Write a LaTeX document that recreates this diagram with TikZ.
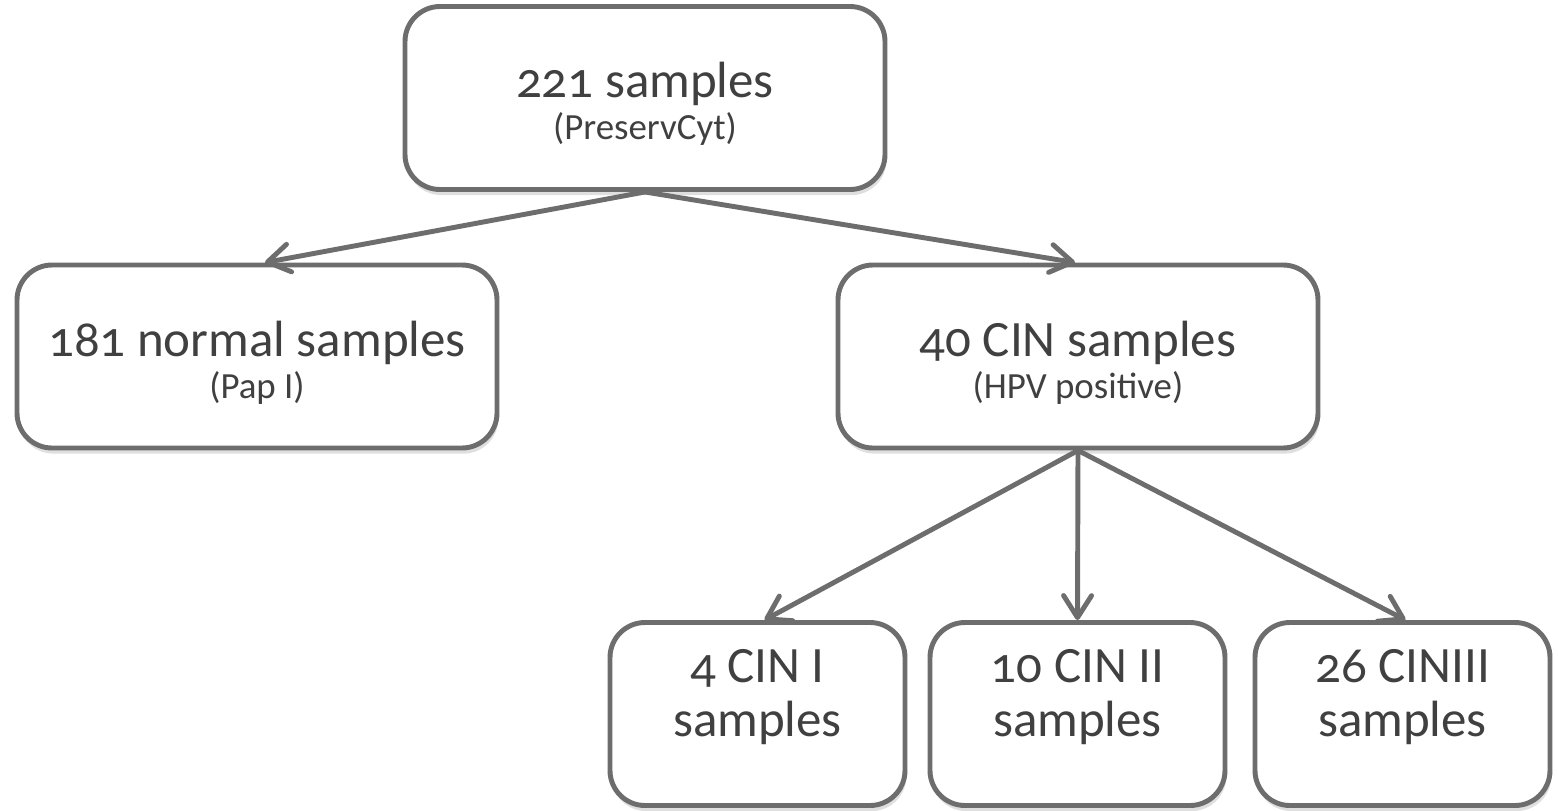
\documentclass[tikz,border=0pt]{standalone}
\usepackage{fontspec}
\setmainfont{Carlito}[Numbers=OldStyle]
\usetikzlibrary{arrows.meta,shadows}
\definecolor{linegray}{HTML}{6D6D6D}
\definecolor{textgray}{HTML}{404040}
\newcommand{\sml}[1]{{\fontsize{10.5}{13}\selectfont #1}}
\begin{document}
\begin{tikzpicture}[
    sbox/.style={draw=linegray,line width=1.4pt,rounded corners=0.35cm,fill=white,
        text=textgray,align=center,inner sep=0pt,minimum height=1.83cm,
        font=\fontsize{14.5}{15.5}\selectfont,
        drop shadow={opacity=0.25,shadow xshift=0.4pt,shadow yshift=-1.6pt}},
    wide/.style={sbox,minimum width=4.8cm},
    narrow/.style={sbox,minimum width=2.95cm},
    txt/.style={text=textgray,align=center,inner sep=0pt,font=\fontsize{14.5}{15.5}\selectfont},
    arr/.style={draw=linegray,line width=1.4pt,line cap=round,
        -{Straight Barb[length=2.2mm,width=2.8mm,line width=1.4pt,round]}}]
    \useasboundingbox (0,0) rectangle (15.58,8.10);
    \node[wide] (all) at (6.45,7.12) {};
    \node[wide] (normal) at (2.57,4.535) {};
    \node[wide] (cin) at (10.78,4.535) {};
    \node[txt] (alltxt) at ([yshift=-0.06cm]all.center) {221 samples\\[-3.5pt]\sml{(PreservCyt)}};
    \node[txt] (normaltxt) at ([yshift=-0.06cm]normal.center) {181 normal samples\\[-3.5pt]\sml{(Pap I)}};
    \node[txt] (cintxt) at ([yshift=-0.06cm]cin.center) {40 CIN samples\\[-3.5pt]\sml{(HPV positive)}};
    \node[narrow] (cina) at (7.575,0.96) {};
    \node[narrow] (cinb) at (10.775,0.96) {};
    \node[narrow] (cinc) at (14.025,0.96) {};
    \node[txt] (cinatxt) at ([yshift=0.17cm]cina.center) {4 CIN I\\samples};
    \node[txt] (cinbtxt) at ([yshift=0.17cm]cinb.center) {10 CIN II\\samples};
    \node[txt] (cinctxt) at ([yshift=0.17cm]cinc.center) {26 CINIII\\samples};
    \draw[arr] (all.south) -- ([xshift=0.08cm]normal.north);
    \draw[arr] (all.south) -- ([xshift=-0.03cm]cin.north);
    \draw[arr] (cin.south) -- ([xshift=0.07cm]cina.north);
    \draw[arr] (cin.south) -- (cinb.north);
    \draw[arr] (cin.south) -- ([xshift=0.03cm]cinc.north);
\end{tikzpicture}
\end{document}
